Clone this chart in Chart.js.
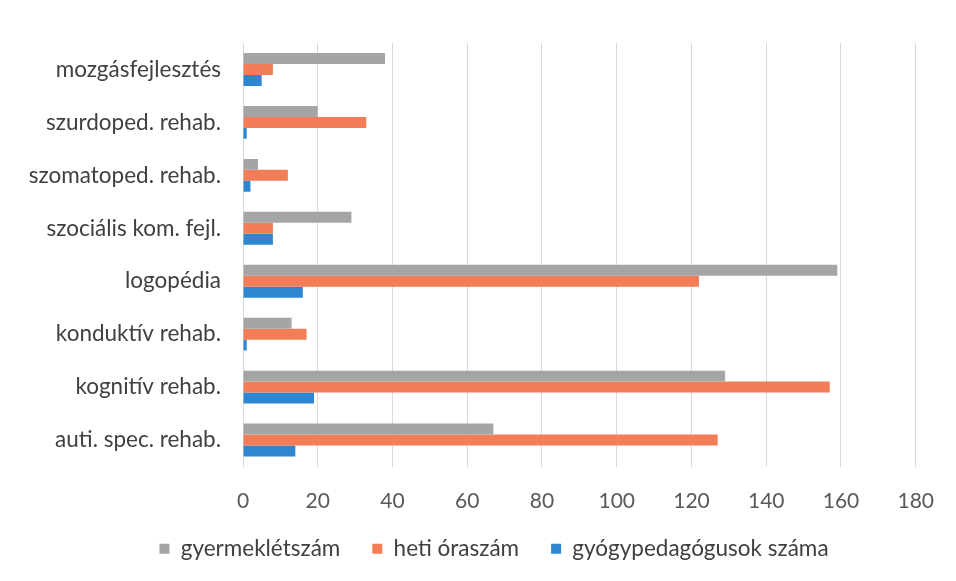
<!DOCTYPE html>
<html>
<head>
<meta charset="utf-8">
<script src="https://cdn.jsdelivr.net/npm/chart.js@4/dist/chart.umd.min.js"></script>
<style>
    html, body { margin: 0; padding: 0; background: #fff; }
    #wrap { width: 956px; height: 581px; }
</style>
</head>
<body>
<div id="wrap"><canvas id="myChart" width="956" height="581"></canvas></div>
<script>
// categories, top to bottom
const categories = [
    'mozgásfejlesztés',
    'szurdoped. rehab.',
    'szomatoped. rehab.',
    'szociális kom. fejl.',
    'logopédia',
    'konduktív rehab.',
    'kognitív rehab.',
    'auti. spec. rehab.'
];

const seriesNames = ['gyermeklétszám', 'heti óraszám', 'gyógypedagógusok száma'];

// values
const gyermeklétszám = [38, 20, 4, 29, 159, 13, 129, 67];
const hetiÓraszám = [8, 33, 12, 8, 122, 17, 157, 127];
const gyógypedagógusok = [5, 1, 2, 8, 16, 1, 19, 14];

const xTicks = [0, 20, 40, 60, 80, 100, 120, 140, 160, 180];

const colors = ['#A5A5A5', '#F27D57', '#2E86D0'];

const fontFamily = 'Lato, "Open Sans", sans-serif';

// the legend sits a bit right of the canvas centre and a little higher in the original
const legendShift = {
    id: 'legendShift',
    afterLayout(chart) {
        chart.legend.left += 35;
        chart.legend.right += 35;
        chart.legend.top -= 11;
        chart.legend.bottom -= 11;
    }
};

let ctx = document.getElementById('myChart').getContext('2d');
let myChart = new Chart(ctx, {
    type: 'bar',
    data: {
        labels: categories,
        datasets: [gyermeklétszám, hetiÓraszám, gyógypedagógusok].map((vals, i) => ({
            label: seriesNames[i],
            data: vals,
            backgroundColor: colors[i],
            borderWidth: 0,
            barPercentage: 1.0,
            categoryPercentage: 0.62
        }))
    },
    plugins: [legendShift],
    options: {
        indexAxis: 'y',
        responsive: false,
        animation: false,
        layout: {
            padding: { left: 0, right: 38, top: 43, bottom: 0 }
        },
        scales: {
            x: {
                min: 0,
                max: 180,
                afterBuildTicks: function(scale) {
                    scale.ticks = xTicks.map(v => ({ value: v }));
                },
                afterFit: function(scale) {
                    scale.height = 50;
                },
                grid: {
                    color: '#D9D9D9',
                    lineWidth: 1,
                    drawTicks: false
                },
                border: { display: false },
                ticks: {
                    padding: 22,
                    color: '#595959',
                    font: { family: fontFamily, size: 21 }
                }
            },
            y: {
                afterFit: function(scale) {
                    scale.width = 243;
                },
                grid: { display: false, drawTicks: false },
                border: { display: false },
                ticks: {
                    padding: 22,
                    color: '#404040',
                    font: { family: fontFamily, size: 22.5 }
                }
            }
        },
        plugins: {
            legend: {
                position: 'bottom',
                labels: {
                    color: '#404040',
                    boxWidth: 10,
                    boxHeight: 10,
                    padding: 32,
                    font: { family: fontFamily, size: 22.5 }
                }
            },
            tooltip: { enabled: false }
        }
    }
});
</script>
</body>
</html>
